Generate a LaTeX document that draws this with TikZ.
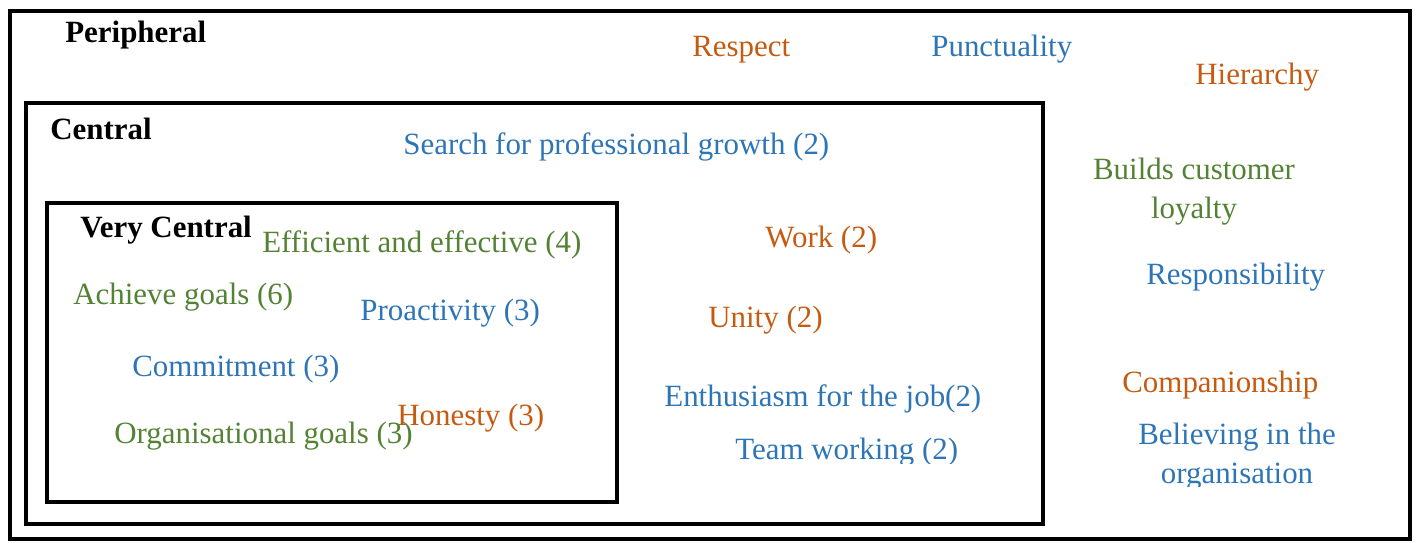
\documentclass[tikz,border=0pt]{standalone}
\usepackage{fontspec}
\setmainfont{Liberation Serif}
\definecolor{ora}{HTML}{C55A11}
\definecolor{blu}{HTML}{2E75B6}
\definecolor{gre}{HTML}{548235}
\begin{document}
\begin{tikzpicture}[x=0.02cm, y=-0.02cm,
  lbl/.style={anchor=base west, inner sep=0pt, font=\fontsize{17.6}{22}\selectfont},
  head/.style={lbl, font=\fontsize{17.6}{22}\selectfont\bfseries},
  ring/.style={line width=2.5pt}]
\useasboundingbox (0,0) rectangle (1417,542);
% the three zones
\draw[ring, line width=2.3pt] (10,11) rectangle (1410,539);
\draw[ring] (26,103) rectangle (1043,524);
\draw[ring, line width=2.8pt] (47,203) rectangle (617,502);
\node[head] (peri) at (65,42) {Peripheral};
\node[head] (cent) at (50,139) {Central};
\node[head] (vcent) at (80,237) {Very Central};
% very central
\node[lbl, gre] (eff) at (262,252) {Efficient and effective (4)};
\node[lbl, gre] (ach) at (73,304) {Achieve goals (6)};
\node[lbl, blu] (pro) at (360,320) {Proactivity (3)};
\node[lbl, blu] (com) at (132,376) {Commitment (3)};
\node[lbl, ora] (hon) at (397,425) {Honesty (3)};
\node[lbl, gre] (org) at (114,443) {Organisational goals (3)};
% central
\node[lbl, blu] (sea) at (403,154) {Search for professional growth (2)};
\node[lbl, ora] (wrk) at (765,247) {Work (2)};
\node[lbl, ora] (uni) at (708,327) {Unity (2)};
\node[lbl, blu] (ent) at (664,406) {Enthusiasm for the job(2)};
\begin{scope}
\clip (700,420) rectangle (1000,463);
\node[lbl, blu] (tea) at (735,459) {Team working (2)};
\end{scope}
% peripheral
\node[lbl, ora] (res) at (692,56) {Respect};
\node[lbl, blu] (pun) at (931,56) {Punctuality};
\node[lbl, ora] (hie) at (1195,84) {Hierarchy};
\node[lbl, gre, anchor=base, align=center] (cus) at (1194,218) {Builds customer\\loyalty};
\node[lbl, blu] (rsp) at (1146,284) {Responsibility};
\node[lbl, ora] (cmp) at (1122,392) {Companionship};
\begin{scope}
\clip (1100,405) rectangle (1380,486);
\node[lbl, blu, anchor=base, align=center] (bel) at (1237,483) {Believing in the\\organisation};
\end{scope}
\end{tikzpicture}
\end{document}
